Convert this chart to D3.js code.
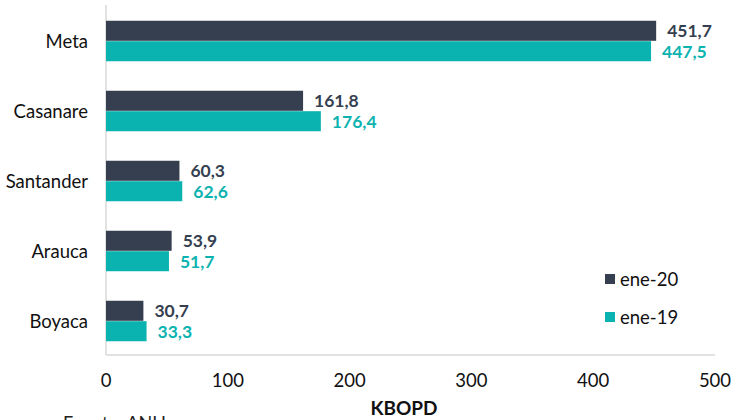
<!DOCTYPE html>
<html>
<head>
<meta charset="utf-8">
<script src="https://cdn.jsdelivr.net/npm/d3@7"></script>
<style>
  body { margin: 0; background: #fff; }
  text { font-family: Lato, "Open Sans", sans-serif; }
</style>
</head>
<body>
<div id="chart"></div>
<script>
// Data
const categories = ['Meta', 'Casanare', 'Santander', 'Arauca', 'Boyaca'];
const seriesNames = ['ene-20', 'ene-19'];
const ene20 = [451.7, 161.8, 60.3, 53.9, 30.7];
const ene19 = [447.5, 176.4, 62.6, 51.7, 33.3];
const xTicks = [0, 100, 200, 300, 400, 500];

const colors = { 'ene-20': '#353f50', 'ene-19': '#0bb3b0' };

const width = 731, height = 420;

const svg = d3.select('#chart').append('svg')
    .attr('width', width)
    .attr('height', height);

const x = d3.scaleLinear()
    .domain([0, 500])
    .range([106, 715]);

const y = d3.scaleBand()
    .domain(categories)
    .range([6, 356])
    .paddingInner(0.41)
    .paddingOuter(0.205);

const ySub = d3.scaleBand()
    .domain(seriesNames)
    .range([0, y.bandwidth()])
    .padding(0.02);

const rows = categories.map((c, i) => ({
    cat: c,
    values: [
        { key: 'ene-20', value: ene20[i] },
        { key: 'ene-19', value: ene19[i] }
    ]
}));

// Axis lines
svg.append('line')
    .attr('x1', x(0)).attr('x2', x(0))
    .attr('y1', 5).attr('y2', 355)
    .attr('stroke', '#d9d9d9').attr('stroke-width', 1.5);
svg.append('line')
    .attr('x1', x(0)).attr('x2', x(500))
    .attr('y1', 355).attr('y2', 355)
    .attr('stroke', '#d9d9d9').attr('stroke-width', 1.5);

// Bars
const groups = svg.selectAll('.grp')
    .data(rows)
    .enter().append('g')
    .attr('class', 'grp')
    .attr('transform', d => `translate(0,${y(d.cat)})`);

groups.selectAll('rect')
    .data(d => d.values)
    .enter().append('rect')
    .attr('x', x(0))
    .attr('y', d => ySub(d.key))
    .attr('width', d => x(d.value) - x(0))
    .attr('height', ySub.bandwidth())
    .attr('fill', d => colors[d.key]);

groups.selectAll('.val')
    .data(d => d.values)
    .enter().append('text')
    .attr('class', 'val')
    .attr('x', d => x(d.value) + 11)
    .attr('y', d => ySub(d.key) + ySub.bandwidth() / 2)
    .attr('dy', '0.36em')
    .style('font-size', '17.5px')
    .style('font-weight', 'bold')
    .style('fill', d => colors[d.key])
    .text(d => d3.format('.1f')(d.value).replace('.', ','));

// Category labels
svg.selectAll('.cat')
    .data(categories)
    .enter().append('text')
    .attr('class', 'cat')
    .attr('x', 88)
    .attr('y', d => y(d) + y.bandwidth() / 2)
    .attr('dy', '0.36em')
    .attr('text-anchor', 'end')
    .style('font-size', '18.5px')
    .style('fill', '#111')
    .text(d => d);

// X tick labels
svg.selectAll('.tick-label')
    .data(xTicks)
    .enter().append('text')
    .attr('class', 'tick-label')
    .attr('x', d => x(d))
    .attr('y', 380)
    .attr('dy', '0.36em')
    .attr('text-anchor', 'middle')
    .style('font-size', '18.5px')
    .style('fill', '#111')
    .text(d => d);

// Axis title
svg.append('text')
    .attr('x', 404)
    .attr('y', 408)
    .attr('dy', '0.36em')
    .attr('text-anchor', 'middle')
    .style('font-size', '19px')
    .style('font-weight', 'bold')
    .style('fill', '#111')
    .text('KBOPD');

// Source
svg.append('text')
    .attr('x', 63)
    .attr('y', 429)
    .style('font-size', '18px')
    .style('fill', '#222')
    .text('Fuente: ANH');

// Legend
const legend = svg.selectAll('.legend')
    .data(seriesNames)
    .enter().append('g')
    .attr('class', 'legend')
    .attr('transform', (d, i) => `translate(605,${279 + i * 38})`);

legend.append('rect')
    .attr('x', 0).attr('y', -5)
    .attr('width', 10).attr('height', 10)
    .attr('fill', d => colors[d]);

legend.append('text')
    .attr('x', 15)
    .attr('y', 0)
    .attr('dy', '0.36em')
    .style('font-size', '18.5px')
    .style('fill', '#111')
    .text(d => d);
</script>
</body>
</html>
